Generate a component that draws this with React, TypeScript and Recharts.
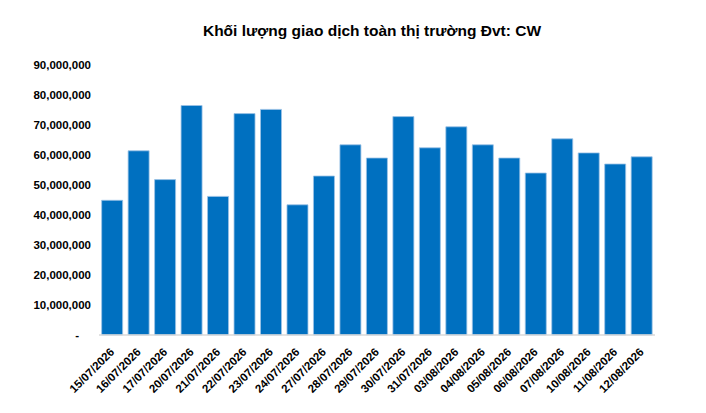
import React from 'react';
import { BarChart, Bar, XAxis, YAxis } from 'recharts';

const categories = [
  '15/07/2026', '16/07/2026', '17/07/2026', '20/07/2026', '21/07/2026',
  '22/07/2026', '23/07/2026', '24/07/2026', '27/07/2026', '28/07/2026',
  '29/07/2026', '30/07/2026', '31/07/2026', '03/08/2026', '04/08/2026',
  '05/08/2026', '06/08/2026', '07/08/2026', '10/08/2026', '11/08/2026',
  '12/08/2026',
];

const volumes = [
  44900000, 61400000, 51800000, 76500000, 46200000,
  73800000, 75200000, 43400000, 53000000, 63400000,
  59000000, 72800000, 62400000, 69400000, 63400000,
  59000000, 54000000, 65400000, 60700000, 57000000,
  59400000,
];

const yTicks = [0, 10000000, 20000000, 30000000, 40000000, 50000000, 60000000, 70000000, 80000000, 90000000];

const title = 'Khối lượng giao dịch toàn thị trường Đvt: CW';

const data = categories.map((c, i) => ({ date: c, value: volumes[i] }));

const FONT = 'Arial, "Liberation Sans", sans-serif';

const YTick = (props: any) => {
  const { x, y, payload } = props;
  const v = payload.value as number;
  const label = v === 0 ? '-' : v.toLocaleString('en-US');
  return (
    <text
      x={v === 0 ? x - 12 : x}
      y={y}
      dy="0.36em"
      textAnchor="end"
      fontFamily={FONT}
      fontWeight="bold"
      fontSize={11.5}
      fill="#000"
    >
      {label}
    </text>
  );
};

const XTick = (props: any) => {
  const { x, y, payload } = props;
  const tx = x - 3;
  const ty = y + 4;
  return (
    <text
      x={tx}
      y={ty}
      dy="0.71em"
      textAnchor="end"
      transform={`rotate(-45, ${tx}, ${ty})`}
      fontFamily={FONT}
      fontWeight="bold"
      fontSize={11.5}
      fill="#000"
    >
      {payload.value}
    </text>
  );
};

export default function App() {
  return (
    <div style={{ position: 'absolute', left: 0, top: 0, width: 706, height: 413, background: '#fff' }}>
      <div
        style={{
          position: 'absolute',
          left: 0,
          top: 22,
          width: 744,
          textAlign: 'center',
          fontFamily: FONT,
          fontWeight: 'bold',
          fontSize: 15.5,
          color: '#000',
          lineHeight: '18px',
        }}
      >
        {title}
      </div>
      <BarChart
        width={706}
        height={413}
        data={data}
        margin={{ top: 65, right: 51, bottom: 0, left: 0 }}
        barCategoryGap="10%"
      >
        <XAxis
          dataKey="date"
          interval={0}
          tickLine={false}
          axisLine={{ stroke: '#d9d9d9', strokeWidth: 1.5 }}
          tick={<XTick />}
          height={78}
        />
        <YAxis
          domain={[0, 90000000]}
          ticks={yTicks}
          interval={0}
          axisLine={false}
          tickLine={false}
          width={99}
          tick={<YTick />}
        />
        <Bar dataKey="value" fill="#0070C0" stroke="#9dc3e6" strokeWidth={0.8} isAnimationActive={false} />
      </BarChart>
    </div>
  );
}
